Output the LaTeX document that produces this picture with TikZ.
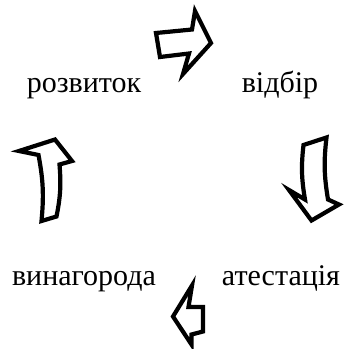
\documentclass[tikz,border=0pt]{standalone}
\usepackage{fontspec}
\setmainfont{Liberation Serif}
\usetikzlibrary{positioning}
\tikzset{stage/.style={font=\fontsize{30}{36}\selectfont,anchor=base,inner sep=0pt},
  blockarrow/.style={draw=black,fill=white,line width=4.2pt,line join=miter}}
\begin{document}
\begin{tikzpicture}[x=1pt,y=-1pt]
\useasboundingbox (0,0) rectangle (345,349);
% stages of the cycle
\node[stage] (rozv) at (84,92.5) {розвиток};
\node[stage] (vidb) at (280,92.5) {відбір};
\node[stage] (ates) at (281,285) {атестація};
\node[stage] (vyn) at (84,285) {винагорода};
% block arrows between the stages
\draw[blockarrow] (156,33) -- (192,29.5) -- (195,11) -- (211,43) -- (183,74)
  -- (189,53.5) -- (160,57) -- cycle;
\draw[blockarrow] (303.5,145) -- (326.5,137.5) to[bend right=8] (328,199.5) -- (339,204.5)
  -- (311.5,220.5) -- (289,190) -- (305,199.5) to[bend left=8] cycle;
\draw[blockarrow] (203,307) -- (203,331.5) -- (191.5,334.5) -- (191.5,344.5) -- (173,316.5)
  -- (192,285.5) -- (188.5,307) -- cycle;
\draw[blockarrow] (55,139.5) -- (72,161) -- (59.5,164.5) to[bend left=8] (56.5,216.5)
  -- (41.5,221) to[bend right=8] (38.5,155) -- (19,151) -- cycle;
\end{tikzpicture}
\end{document}
